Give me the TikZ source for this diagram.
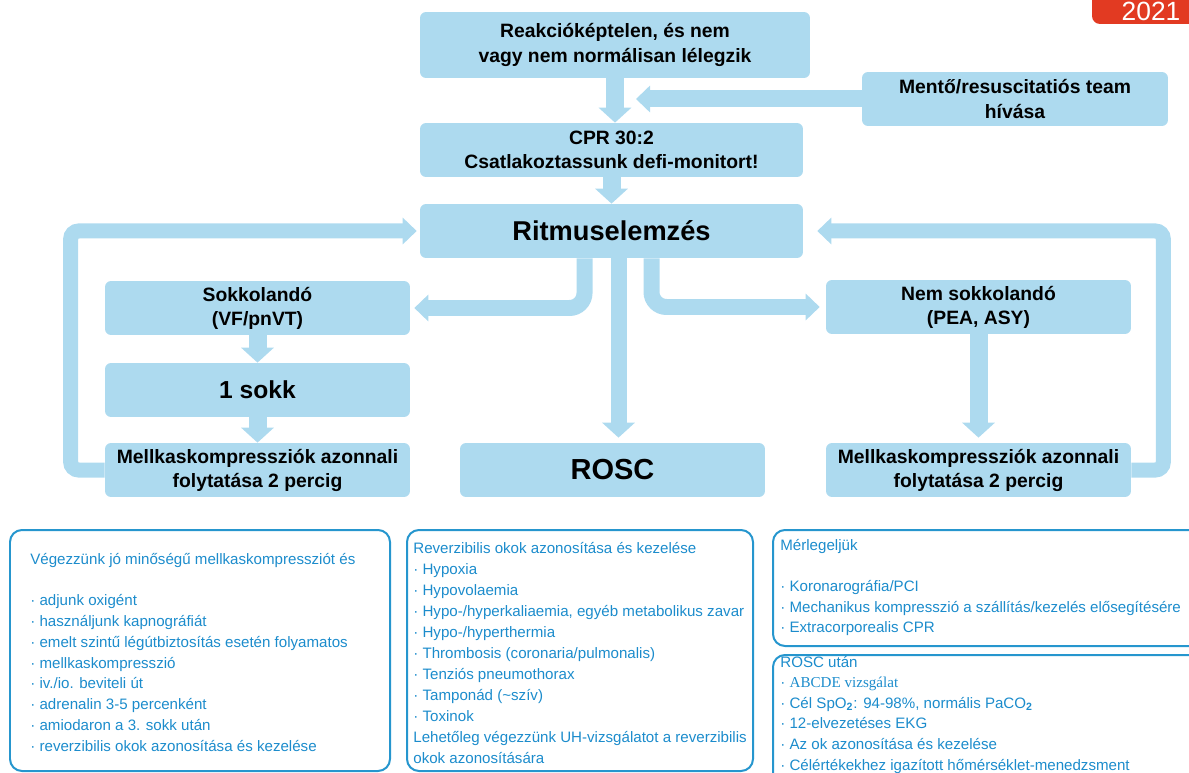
\documentclass[tikz,border=0pt]{standalone}
\usepackage{fontspec}
\setmainfont{Liberation Sans}
\newfontfamily\serifpart{Liberation Serif}
\usetikzlibrary{arrows.meta}
\definecolor{boxblue}{RGB}{173,218,239}
\definecolor{lineblue}{RGB}{38,150,206}
\definecolor{textblue}{RGB}{28,140,204}
\definecolor{yearred}{RGB}{226,58,34}
\tikzset{
  stepbox/.style={fill=boxblue, rounded corners=0.12cm, minimum width=6.1cm,
    minimum height=1.08cm, align=center, inner sep=0pt,
    font=\fontsize{11}{13.7}\selectfont\bfseries},
  bigbox/.style={stepbox, font=\fontsize{15.5}{18}\selectfont\bfseries},
  downarr/.style={boxblue, line width=0.36cm, -{Triangle[width=0.64cm,length=0.3cm]}},
  looparr/.style={boxblue, line width=0.3cm, rounded corners=0.16cm,
    -{Triangle[width=0.52cm,length=0.28cm]}},
  panel/.style={draw=lineblue, line width=0.04cm, rounded corners=0.24cm},
  ptext/.style={anchor=base west, inner sep=0pt, text=textblue,
    font=\fontsize{8.6}{11.8}\selectfont},
}

\begin{document}
\begin{tikzpicture}[x=0.02cm, y=-0.02cm]

    % Page frame
    \useasboundingbox (0,0) rectangle (1189,773);
    \clip (0,0) rectangle (1189,773);

    % Year tag
    \fill[yearred, rounded corners=0.16cm] (1092,-20) rectangle (1220,24);
    \node[text=white, anchor=base, inner sep=0pt, font=\fontsize{15}{17}\selectfont] (year) at (1151,21) {2021};

    % Main flow boxes
    \node[stepbox, minimum width=7.8cm, minimum height=1.32cm] (react) at (615,45) {Reakcióképtelen, és nem\\vagy nem normálisan lélegzik};
    \node[stepbox, minimum width=6.12cm] (mento) at (1015,99) {Mentő/resuscitatiós team\\hívása};
    \node[stepbox, minimum width=7.66cm] (cpr) at (611.5,150) {CPR 30:2\\Csatlakoztassunk defi-monitort!};
    \node[bigbox, minimum width=7.66cm] (ritmus) at (611.5,231) {Ritmuselemzés};

    % Shockable branch
    \node[stepbox] (sokk) at (257.5,308) {Sokkolandó\\(VF/pnVT)};
    \node[stepbox, font=\fontsize{14}{16}\selectfont\bfseries] (shock) at (257.5,390) {1 sokk};
    \node[stepbox] (mellL) at (257.5,470) {Mellkaskompressziók azonnali\\folytatása 2 percig};

    % ROSC
    \node[bigbox, font=\fontsize{16.5}{18}\selectfont\bfseries] (rosc) at (612.5,470) {ROSC};

    % Non-shockable branch
    \node[stepbox] (nemsokk) at (978.5,307) {Nem sokkolandó\\(PEA, ASY)};
    \node[stepbox] (mellR) at (978.5,470) {Mellkaskompressziók azonnali\\folytatása 2 percig};

    % Straight arrows
    \draw[downarr] (react.south) -- (react.south |- cpr.north);
    \coordinate (mentip) at (636,99);
    \draw[looparr, line width=0.34cm] (mento.west) -- (mentip);
    \draw[downarr] (cpr.south) -- (ritmus.north);
    \draw[downarr] (sokk.south) -- (shock.north);
    \draw[downarr] (shock.south) -- (mellL.north);
    \draw[downarr, shorten >=0.1cm] (nemsokk.south) -- (mellR.north);

    % Branches out of rhythm check
    \coordinate (brl) at ([xshift=-0.54cm]ritmus.south);
    \coordinate (brc) at ([xshift=0.14cm]ritmus.south);
    \coordinate (brr) at ([xshift=0.8cm]ritmus.south);
    \draw[looparr, line width=0.32cm, rounded corners=0.3cm, shorten >=0.08cm] (brl) |- (sokk.east);
    \draw[looparr, line width=0.32cm, rounded corners=0.3cm, shorten >=0.12cm] (brr) |- (nemsokk.west);
    \draw[downarr, line width=0.32cm, shorten >=0.1cm] (brc) -- (brc |- rosc.north);

    % Loops back to rhythm check
    \draw[looparr, shorten >=0.06cm] (mellL.west) -- ++(-34,0) |- (ritmus.west);
    \draw[looparr, shorten >=0.28cm] (mellR.east) -- ++(32,0) |- (ritmus.east);

    % Info panels
    \draw[panel] (10,530) rectangle (390,771);
    \draw[panel] (407,530) rectangle (753,771);
    \draw[panel] (773,530) rectangle (1210,646);
    \draw[panel] (773,655) rectangle (1210,800);

    \foreach \ln [count=\i from 0] in {{Végezzünk jó minőségű mellkaskompressziót és}, {},
        {· adjunk oxigént}, {· használjunk kapnográfiát},
        {· emelt szintű légútbiztosítás esetén folyamatos}, {· mellkaskompresszió},
        {· iv./io. beviteli út}, {· adrenalin 3-5 percenként},
        {· amiodaron a 3. sokk után}, {· reverzibilis okok azonosítása és kezelése}}
        \node[ptext] (pa\i) at (30,{564+20.8*\i}) {\ln};

    \foreach \ln [count=\i from 0] in {{Reverzibilis okok azonosítása és kezelése},
        {· Hypoxia}, {· Hypovolaemia}, {· Hypo-/hyperkaliaemia, egyéb metabolikus zavar},
        {· Hypo-/hyperthermia}, {· Thrombosis (coronaria/pulmonalis)},
        {· Tenziós pneumothorax}, {· Tamponád (\textasciitilde szív)}, {· Toxinok},
        {Lehetőleg végezzünk UH-vizsgálatot a reverzibilis}, {okok azonosítására}}
        \node[ptext] (pb\i) at (413,{553+21*\i}) {\ln};

    \foreach \ln [count=\i from 0] in {{Mérlegeljük}, {}, {· Koronarográfia/PCI},
        {· Mechanikus kompresszió a szállítás/kezelés elősegítésére},
        {· Extracorporealis CPR}}
        \node[ptext] (pc\i) at (780,{550+20.7*\i}) {\ln};

    \foreach \ln [count=\i from 0] in {{ROSC után}, {· {\serifpart ABCDE vizsgálat}},
        {· Cél SpO\textsubscript{\textbf{2}}: 94-98\%, normális PaCO\textsubscript{\textbf{2}}},
        {· 12-elvezetéses EKG}, {· Az ok azonosítása és kezelése},
        {· Célértékekhez igazított hőmérséklet-menedzsment}}
        \node[ptext] (pd\i) at (780,{667+20.6*\i}) {\ln};

\end{tikzpicture}
\end{document}
